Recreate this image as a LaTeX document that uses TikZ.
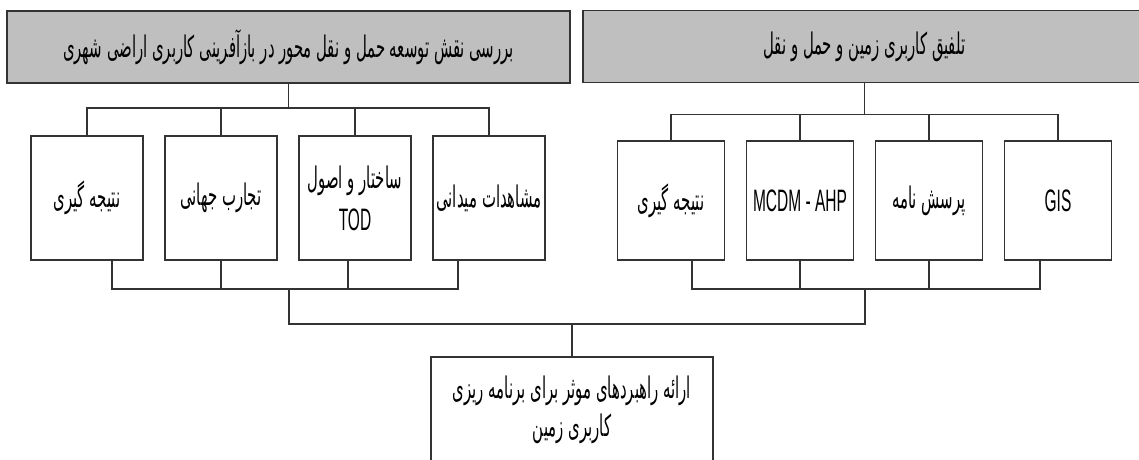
\documentclass[tikz,border=0pt]{standalone}
\usepackage{fontspec}
\setmainfont[FakeStretch=0.5]{Liberation Sans}
\newfontfamily\arabicfont[Script=Arabic,FakeStretch=0.5,Scale=0.96]{DejaVu Sans}
\TeXXeTstate=1
\usetikzlibrary{positioning,calc}
\newcommand{\fa}[1]{{\arabicfont\beginR #1\endR}}

\begin{document}
\begin{tikzpicture}[x=1pt,y=-1pt]

  \tikzstyle{every node}=[font=\fontsize{31}{42}\selectfont]

  \tikzset{head/.style={draw=black!80,line width=1.3pt,fill=black!25,outer sep=0pt,
      minimum width=563pt,minimum height=72pt}}
  \tikzset{box/.style={draw=black!80,line width=1.3pt,fill=white,align=center,
      outer sep=0pt,inner sep=2pt}}
  \tikzset{link/.style={draw=black!80,line width=1.1pt}}

  \clip (0,0) rectangle (1139,459);

  % Headers
  \node[head] (lhead) at (288.5,47) {\fa{بررسی نقش توسعه حمل و نقل محور در بازآفرینی کاربری اراضی شهری}};
  \node[head] (rhead) at (864.5,46.5) {\fa{تلفیق کاربری زمین و حمل و نقل}};

  % Left boxes
  \tikzset{lbox/.style={box,minimum width=112pt,minimum height=124pt}}
  \node[lbox] (lconc) at (87,198) {\fa{نتیجه گیری}};
  \node[lbox,right=22pt of lconc] (lworld) {\fa{تجارب جهانی}};
  \node[lbox,right=22pt of lworld] (ltod) {\fa{ساختار و اصول}\\TOD};
  \node[lbox,right=22pt of ltod] (lfield) {\fa{مشاهدات میدانی}};

  % Right boxes
  \tikzset{rbox/.style={box,minimum width=107pt,minimum height=119pt}}
  \node[rbox] (rconc) at (671,200.5) {\fa{نتیجه گیری}};
  \node[rbox,right=22pt of rconc] (rmcdm) {MCDM - AHP};
  \node[rbox,right=22pt of rmcdm] (rquest) {\fa{پرسش نامه}};
  \node[rbox,right=22pt of rquest] (rgis) {GIS};

  % Result
  \node[box,minimum width=282pt,minimum height=106pt,font=\fontsize{31}{38}\selectfont]
    (goal) at (572,410) {\fa{ارائه راهبردهای موثر برای برنامه ریزی}\\\fa{کاربری زمین}};

  % Header to boxes
  \foreach \b in {lconc,lworld,ltod,lfield}
    \draw[link] (lhead.south) -- ++(0,25) -| (\b.north);
  \foreach \b in {rconc,rmcdm,rquest,rgis}
    \draw[link] (rhead.south) -- ++(0,32) -| (\b.north);

  % Boxes to result
  \draw[link] ([xshift=25pt]lconc.south) -- ++(0,29) -| ([xshift=-31pt]lfield.south);
  \draw[link] (lworld.south) -- ++(0,29);
  \draw[link] ([xshift=-7pt]ltod.south) -- ++(0,29);
  \draw[link] ([xshift=21pt]rconc.south) -- ++(0,29) -| ([xshift=-18pt]rgis.south);
  \draw[link] (rmcdm.south) -- ++(0,29);
  \draw[link] (rquest.south) -- ++(0,29);

  \coordinate (lmerge) at (289,289);
  \coordinate (rmerge) at (865,289);
  \draw[link] (lmerge) -- ++(0,35) coordinate (join) -| (rmerge);
  \draw[link] (goal.north) -- (goal.north |- join);

\end{tikzpicture}
\end{document}
